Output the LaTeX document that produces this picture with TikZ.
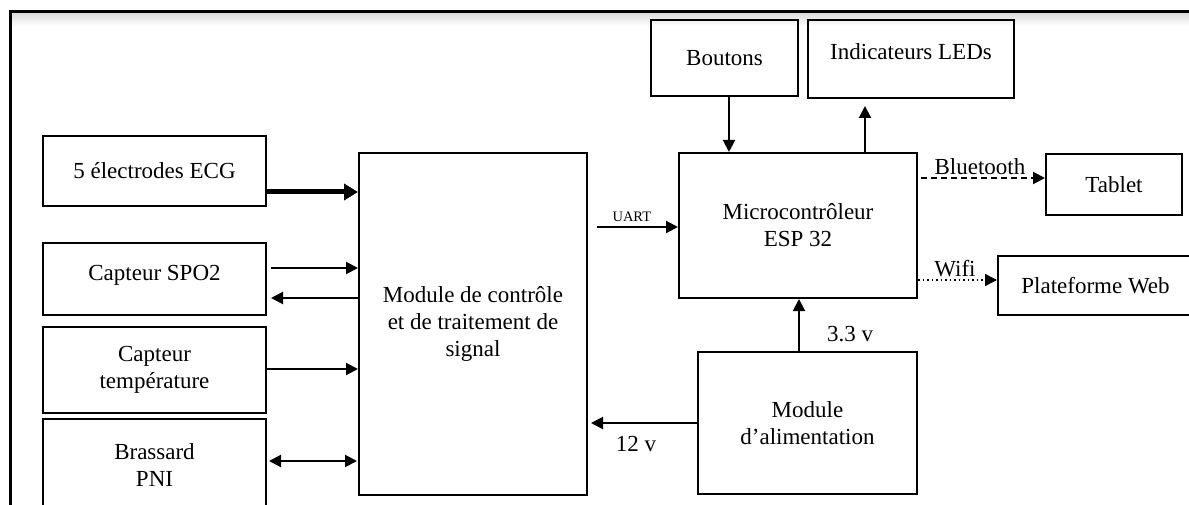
\documentclass[tikz,border=0pt]{standalone}
\usepackage{fontspec}
\setmainfont{Liberation Serif}
\usetikzlibrary{arrows.meta}

\tikzset{
  box/.style={draw, line width=2pt, inner sep=0pt, align=center,
              font=\fontsize{23}{27}\selectfont},
  lbl/.style={inner sep=0pt, font=\fontsize{23}{27}\selectfont},
  arr/.style={line width=2pt, -{Triangle[length=12pt,width=12pt]}},
  dblarr/.style={line width=2pt, {Triangle[length=12pt,width=12pt]}-{Triangle[length=12pt,width=12pt]}},
  bigarr/.style={line width=5pt, -{Triangle[length=14pt,width=16pt]}},
}

\begin{document}
\begin{tikzpicture}[x=1pt, y=-1pt]
  \clip (0,0) rectangle (1189,505);
  \fill[white] (0,0) rectangle (1189,505);

  % outer frame (top and left edges) with a soft shade beneath the top edge
  \shade[top color=black!14, bottom color=white] (11.5,13) rectangle (1189,26);
  \draw[line width=3pt] (10,520) -- (10,11.5) -- (1200,11.5);

  % sensor blocks
  \node[box, minimum width=223pt, minimum height=70pt] (ecg)  at (154.5,171) {5 électrodes ECG};
  \node[box, minimum width=223pt, minimum height=72pt] (spo)  at (154.5,279) {};
  \node[lbl] at (154.5,275) {Capteur SPO2};
  \node[box, minimum width=223pt, minimum height=86pt] (temp) at (154.5,370) {Capteur\\température};
  \node[box, minimum width=223pt, minimum height=96pt] (pni)  at (154.5,467) {};
  \node[lbl, align=center] at (154.5,465) {Brassard\\PNI};

  % processing blocks
  \node[box, minimum width=228pt, minimum height=342pt] (ctrl) at (473,324)
       {Module de contrôle\\et de traitement de\\signal};
  \node[box, minimum width=238pt, minimum height=145pt] (mcu)  at (798,225.5)
       {Microcontrôleur\\ESP 32};
  \node[box, minimum width=219pt, minimum height=142pt] (alim) at (807.5,423)
       {Module\\d’alimentation};

  % peripherals
  \node[box, minimum width=147pt, minimum height=76pt] (btn) at (724.5,58) {Boutons};
  \node[box, minimum width=206pt, minimum height=78pt] (led) at (911,59) {};
  \node[lbl] at (911,52) {Indicateurs LEDs};
  \node[box, minimum width=136pt, minimum height=61pt] (tab) at (1114,184.5) {Tablet};
  \node[box, minimum width=195pt, minimum height=59pt] (web) at (1095.5,285.5) {Plateforme Web};

  % sensor links
  \draw[bigarr] (ecg.east |- 0,192) -- (ctrl.west |- 0,192);
  \draw[arr] ([xshift=4pt]spo.east |- 0,268) -- (ctrl.west |- 0,268);
  \draw[arr] (ctrl.west |- 0,298) -- ([xshift=4pt]spo.east |- 0,298);
  \draw[arr] (temp.east |- 0,369) -- (ctrl.west |- 0,369);
  \draw[dblarr] ([xshift=2pt]pni.east |- 0,461) -- ([xshift=-1pt]ctrl.west |- 0,461);

  % controller links
  \draw[arr] ([xshift=9pt]ctrl.east |- 0,227) -- (mcu.west |- 0,227)
        node[pos=0.43, above=4pt, inner sep=0pt, font=\fontsize{14.5}{16}\selectfont] {UART};
  \draw[arr] (btn.south -| 729,0) -- (mcu.north -| 729,0);
  \draw[arr, shorten >=7pt] (mcu.north -| 865,0) -- (led.south -| 865,0);
  \draw[line width=2pt, dash pattern=on 6pt off 4pt, -{Triangle[length=12pt,width=12pt]}]
        ([xshift=3pt]mcu.east |- 0,178) -- (tab.west |- 0,178);
  \node[lbl] at (980,167) {Bluetooth};
  \draw[line width=1.5pt, dash pattern=on 1.5pt off 3pt, -{Triangle[length=12pt,width=12pt]}]
        (mcu.east |- 0,280) -- (web.west |- 0,280);
  \node[lbl] at (955,269) {Wifi};

  % power supply links
  \draw[arr] (alim.north -| 799,0) -- (mcu.south -| 799,0);
  \node[lbl] at (850,334) {3.3 v};
  \draw[arr, shorten >=3pt] (alim.west |- 0,423) -- (ctrl.east |- 0,423);
  \node[lbl] at (636,444) {12 v};
\end{tikzpicture}
\end{document}
